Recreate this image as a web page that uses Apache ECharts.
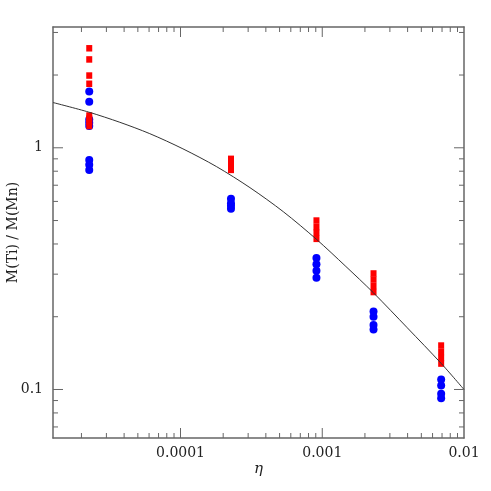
<!DOCTYPE html>
<html>
<head>
<meta charset="utf-8">
<script src="https://cdn.jsdelivr.net/npm/echarts@6/dist/echarts.min.js"></script>
<style>
  html, body { margin: 0; padding: 0; background: #fff; }
  #chart { width: 491px; height: 491px; }
  #err { position: absolute; left: 70px; top: 40px; font: 10px monospace; color: #c00; white-space: pre-wrap; }
</style>
</head>
<body>
<div id="chart"></div>
<div id="err"></div>
<script>
// eta columns where the models were computed
var etaCols = [2.27e-5, 2.27e-4, 9.1e-4, 2.3e-3, 6.9e-3]
// M(Ti)/M(Mn), one list per eta column
var redRatios = [
  [2.58, 2.32, 1.99, 1.84, 1.36, 1.32, 1.28, 1.23],
  [0.90, 0.87, 0.84, 0.81],
  [0.50, 0.47, 0.445, 0.42],
  [0.302, 0.285, 0.268, 0.253],
  [0.152, 0.143, 0.135, 0.128]
]
var blueRatios = [
  [1.71, 1.55, 1.31, 1.27, 1.23, 0.89, 0.85, 0.81],
  [0.615, 0.59, 0.575, 0.56],
  [0.35, 0.33, 0.31, 0.29],
  [0.21, 0.20, 0.185, 0.177],
  [0.11, 0.104, 0.096, 0.092]
]
// fitted curve
var curveEta = [1.26e-5, 2.25e-5, 3.73e-5, 6.07e-5, 1.04e-4, 1.80e-4, 3.09e-4, 5.31e-4, 9.15e-4, 1.45e-3, 2.30e-3, 3.98e-3, 6.92e-3, 1.0e-2]
var curveRatio = [1.539, 1.405, 1.275, 1.144, 0.990, 0.835, 0.684, 0.544, 0.417, 0.325, 0.251, 0.180, 0.128, 0.1]

// axis ranges and tick values
var xMin = 1.26e-5, xMax = 0.01
var yMin = 0.063, yMax = 3.16
var xMajor = [1e-4, 1e-3]
var xMinor = [2e-5, 3e-5, 4e-5, 5e-5, 6e-5, 7e-5, 8e-5, 9e-5,
  2e-4, 3e-4, 4e-4, 5e-4, 6e-4, 7e-4, 8e-4, 9e-4,
  2e-3, 3e-3, 4e-3, 5e-3, 6e-3, 7e-3, 8e-3, 9e-3]
var yMajor = [0.1, 1]
var yMinor = [0.07, 0.08, 0.09, 0.2, 0.3, 0.4, 0.5, 0.6, 0.7, 0.8, 0.9, 2, 3]

var font = 'DejaVu Serif'
var axisColor = '#666'

function toPoints(cols, ratios) {
  var out = []
  cols.forEach(function(eta, i) {
    ratios[i].forEach(function(r) { out.push([eta, r]) })
  })
  return out
}

// tick items: [x, y, length, dx, dy]
function tickItems() {
  var out = []
  xMajor.concat(xMinor).forEach(function(v) {
    var len = xMajor.indexOf(v) >= 0 ? 10 : 5
    out.push([v, yMin, len, 0, -1])
    out.push([v, yMax, len, 0, 1])
  })
  yMajor.concat(yMinor).forEach(function(v) {
    var len = yMajor.indexOf(v) >= 0 ? 10 : 5
    out.push([xMin, v, len, 1, 0])
    out.push([xMax, v, len, -1, 0])
  })
  return out
}

function renderTick(params, api) {
  var p = api.coord([api.value(0), api.value(1)])
  var len = api.value(2)
  return {
    type: 'line',
    shape: { x1: p[0], y1: p[1], x2: p[0] + api.value(3) * len, y2: p[1] + api.value(4) * len },
    style: { stroke: axisColor, lineWidth: 1 }
  }
}

function axisBase(min, max, pos, margin) {
  var showLabel = pos === 'bottom' || pos === 'left'
  return {
    type: 'log', logBase: 10, min: min, max: max, position: pos,
    axisLine: { show: true, onZero: false, lineStyle: { color: axisColor, width: 1.5 } },
    axisTick: { show: false },
    minorTick: { show: false },
    splitLine: { show: false },
    axisLabel: { show: showLabel, margin: margin, showMinLabel: false, showMaxLabel: pos === 'bottom',
      fontFamily: font, fontSize: 14, color: '#222' }
  }
}

var xBottom = axisBase(xMin, xMax, 'bottom', 8)
xBottom.name = 'η'
xBottom.nameLocation = 'middle'
xBottom.nameGap = 24
xBottom.nameMoveOverlap = false
xBottom.nameTextStyle = { fontFamily: font, fontStyle: 'italic', fontSize: 15, color: '#222' }
var yLeft = axisBase(yMin, yMax, 'left', 10)
yLeft.name = 'M(Ti) / M(Mn)'
yLeft.nameLocation = 'middle'
yLeft.nameGap = 33
yLeft.nameMoveOverlap = false
yLeft.nameTextStyle = { fontFamily: font, fontSize: 14, color: '#222' }

var chart = echarts.init(document.getElementById('chart'))
try {
  chart.setOption({
    animation: false,
    backgroundColor: '#fff',
    grid: { left: 53, top: 27, width: 411, height: 411, containLabel: false, outerBoundsMode: 'none' },
    xAxis: [xBottom, axisBase(xMin, xMax, 'top', 8)],
    yAxis: [yLeft, axisBase(yMin, yMax, 'right', 10)],
    series: [
      {
        name: 'ticks', type: 'custom', renderItem: renderTick, silent: true, clip: false,
        data: tickItems(), z: 6
      },
      {
        name: 'blue', type: 'scatter', symbol: 'circle', symbolSize: 8,
        itemStyle: { color: '#0000ff', opacity: 1 },
        data: toPoints(etaCols, blueRatios), z: 3
      },
      {
        name: 'red', type: 'scatter', symbol: 'rect', symbolSize: [6, 6.5],
        itemStyle: { color: '#ff0000', opacity: 1 },
        data: toPoints(etaCols, redRatios), z: 4
      },
      {
        name: 'fit', type: 'line', smooth: 0.3, showSymbol: false,
        lineStyle: { color: '#333', width: 1 },
        data: curveEta.map(function(e, i) { return [e, curveRatio[i]] }), z: 5
      }
    ]
  })
} catch (e) {
  document.getElementById('err').textContent = e.message
}
</script>
</body>
</html>
